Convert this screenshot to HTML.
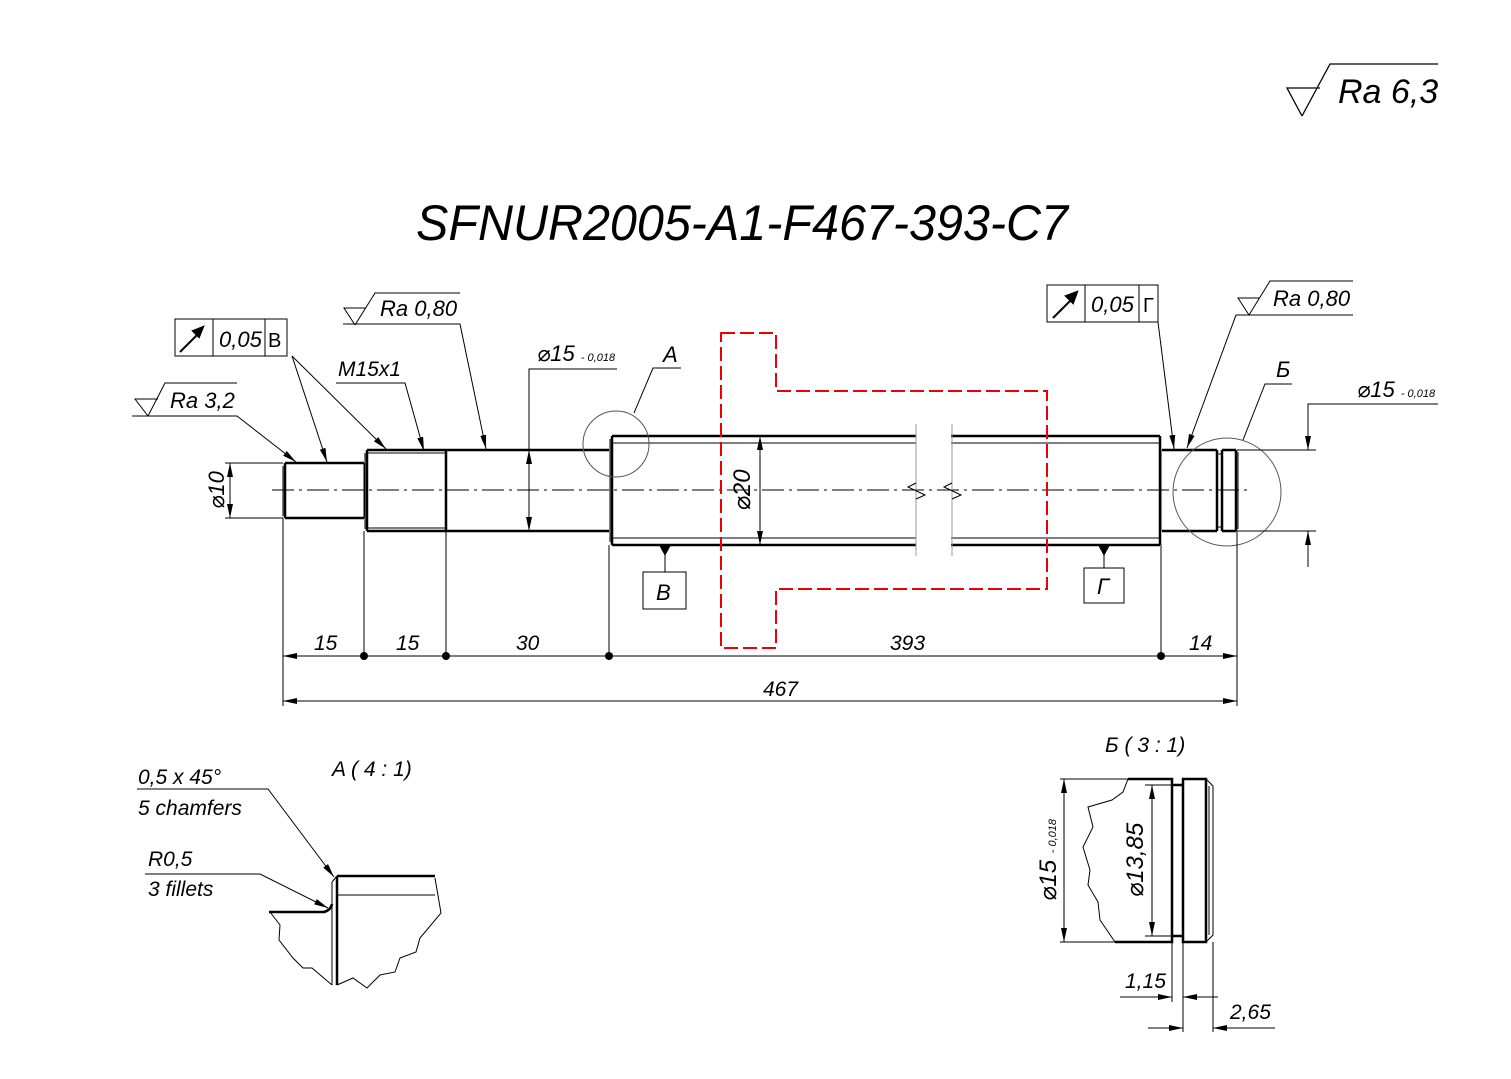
<!DOCTYPE html>
<html><head><meta charset="utf-8"><style>
html,body{margin:0;padding:0;background:#fff;}
svg{display:block;}
text{font-family:"Liberation Sans","DejaVu Sans",sans-serif;font-style:italic;fill:#000;}
</style></head><body>
<svg width="1511" height="1079" viewBox="0 0 1511 1079" xmlns="http://www.w3.org/2000/svg">
<defs>
<marker id="ar" viewBox="0 0 14 6" refX="14" refY="3" markerWidth="14" markerHeight="6" markerUnits="userSpaceOnUse" orient="auto"><path d="M0,0 L14,3 L0,6 z" fill="#000"/></marker>
</defs>
<g fill="none" stroke="#000" stroke-width="1">

<!-- Ra 6,3 -->
<path d="M1302,116 L1287,88 L1320,88 M1302,116 L1330,64 L1438,64" stroke-width="1.3"/>
<!-- centerline -->
<path d="M272,490 L1248,490" stroke-dasharray="22,5,3,5"/>

<!-- shaft -->
<g stroke-width="2.5">
<path d="M285,463 L364,463 M285,518 L364,518 M285,463 L285,518"/>
<path d="M367,450 L609,450 M367,531 L609,531 M367,450 L367,531 M446,450 L446,531"/>
<path d="M612,436 L916,436 M612,545 L916,545 M951,436 L1160,436 M951,545 L1160,545 M612,436 L612,545 M1160,436 L1160,545"/>
<path d="M1162,450 L1217,450 M1162,531 L1217,531 M1217,450 L1217,531 M1222,450 L1236,450 M1222,531 L1236,531 M1222,450 L1222,531 M1236,450 L1236,531"/>
</g>
<path d="M283,466 L283,516 M365,453 L365,529 M364,463 L364,518 M367,453 L446,453 M367,528 L446,528 M610,439 L610,542 M612,443 L916,443 M612,538 L916,538 M951,443 L1160,443 M951,538 L1160,538 M1161,450 L1161,531 M1217,454 L1222,454 M1217,527 L1222,527 M1238,452 L1238,529"/>
<!-- break -->
<path d="M916,424 L916,556 M952,424 L952,556" stroke="#999"/>
<path d="M916,483 L908,487 L925,495 L916,499 M952,483 L944,487 L961,495 L952,499"/>
<!-- circles -->
<circle cx="616" cy="444" r="33" stroke="#555"/>
<circle cx="1227" cy="492" r="54" stroke="#555"/>

<!-- extension lines -->
<path d="M283,518 L283,706 M364,531 L364,660 M446,531 L446,660 M609,545 L609,660 M1161,545 L1161,660 M1237,531 L1237,706"/>
<!-- dimension lines -->
<path d="M1237,656 L283,656" marker-end="url(#ar)"/>
<path d="M300,656 L1237,656" marker-end="url(#ar)"/>
<path d="M1237,701 L283,701" marker-end="url(#ar)"/>
<path d="M300,701 L1237,701" marker-end="url(#ar)"/>

<!-- Ø10 -->
<path d="M225,463 L283,463 M225,518 L283,518"/>
<path d="M230,490 L230,463" marker-end="url(#ar)"/><path d="M230,490 L230,518" marker-end="url(#ar)"/>
<!-- Ø15 mid -->
<path d="M617,369 L529,369 L529,490"/>
<path d="M529,490 L529,450" marker-end="url(#ar)"/><path d="M529,490 L529,531" marker-end="url(#ar)"/>
<!-- Ø20 -->
<path d="M760,490 L760,436" marker-end="url(#ar)"/><path d="M760,490 L760,545" marker-end="url(#ar)"/>
<!-- right Ø15 -->
<path d="M1237,450 L1316,450 M1237,531 L1316,531 M1438,404 L1308,404 L1308,433 M1308,548 L1308,567"/>
<path d="M1308,425 L1308,450" marker-end="url(#ar)"/><path d="M1308,556 L1308,531" marker-end="url(#ar)"/>

<!-- red dashed -->
<path d="M721,333 L776,333 L776,391 L1047,391 L1047,589 L776,589 L776,648 L721,648 Z" stroke="#e00" stroke-width="2" stroke-dasharray="14,5"/>

<!-- datum B -->
<path d="M665,555 L665,572"/><rect x="643" y="572" width="43" height="37"/>
<path d="M1104,555 L1104,568"/><rect x="1084" y="568" width="40" height="35"/>

<!-- tolerance frames -->
<rect x="175" y="319" width="112" height="37"/><path d="M213,319 L213,356 M265,319 L265,356"/>
<rect x="1047" y="285" width="111" height="37"/><path d="M1085,285 L1085,322 M1139,285 L1139,322"/>
<path d="M292,356 L327,462" marker-end="url(#ar)"/>
<path d="M292,356 L386,449" marker-end="url(#ar)"/>
<path d="M1158,322 L1174,449" marker-end="url(#ar)"/>

<!-- Ra 3,2 -->
<path d="M132,416 L237,416 L296,462" marker-end="url(#ar)"/>
<path d="M148,416 L135,399 L158,399 M148,416 L165,383 L237,383"/>
<!-- Ra 0,80 left -->
<path d="M343,324 L460,324 L486,449" marker-end="url(#ar)"/>
<path d="M355,325 L344,308 L366,308 M355,325 L375,293 L460,293"/>
<!-- M15x1 -->
<path d="M336,383 L405,383 L424,451" marker-end="url(#ar)"/>
<!-- A -->
<path d="M681,368 L653,368 L634,413"/>
<!-- Ra 0,80 right -->
<path d="M1353,315 L1236,315 L1187,448" marker-end="url(#ar)"/>
<path d="M1249,315 L1238,298 L1260,298 M1249,315 L1270,281 L1353,281"/>
<!-- Б -->
<path d="M1292,384 L1265,384 L1243,440"/>

<!-- Detail A -->
<path d="M137,789 L268,789 L334,877" marker-end="url(#ar)"/>
<path d="M145,874 L260,874 L328,908" marker-end="url(#ar)"/>
<path d="M337,876 L435,876 M337,876 L337,985 M269,912 L324,912 Q331,910 332,904" stroke-width="2.5"/>
<path d="M337,895 L435,895 M332,882 L332,985 M332,882 L337,876"/>
<path d="M435,878 L441,913 L420,938 L416,952 L400,958 L395,972 L380,975 L367,988 L353,978 L337,985"/>
<path d="M270,912 L280,925 L279,940 L293,958 L303,968 L312,968 L332,985"/>

<!-- Detail Б -->
<path d="M1128,779 L1172,779 L1172,942 L1115,942 M1183,779 L1206,779 L1206,942 L1183,942 Z M1172,785 L1183,785 M1172,936 L1183,936" stroke-width="2.5"/>
<path d="M1206,779 L1213,786 L1213,935 L1206,942 M1209,786 L1209,935"/>
<path d="M1128,779 L1123,792 L1112,800 L1088,807 L1093,827 L1083,847 L1090,870 L1088,885 L1098,902 L1100,920 L1115,942"/>
<path d="M1060,779 L1128,779 M1060,942 L1115,942 M1145,785 L1172,785 M1145,936 L1172,936"/>
<path d="M1064,860 L1064,779" marker-end="url(#ar)"/><path d="M1064,860 L1064,942" marker-end="url(#ar)"/>
<path d="M1152,860 L1152,785" marker-end="url(#ar)"/><path d="M1152,860 L1152,936" marker-end="url(#ar)"/>
<path d="M1172,942 L1172,1002 M1183,942 L1183,1032 M1213,942 L1213,1032"/>
<path d="M1120,997 L1172,997" marker-end="url(#ar)"/><path d="M1218,997 L1183,997" marker-end="url(#ar)"/>
<path d="M1148,1028 L1183,1028" marker-end="url(#ar)"/><path d="M1275,1028 L1213,1028" marker-end="url(#ar)"/>
</g>

<!-- datum triangles and dots -->
<g fill="#000">
<path d="M659,545 L671,545 L665,556 Z M1098,545 L1110,545 L1104,556 Z"/>
<circle cx="364" cy="656" r="4"/><circle cx="446" cy="656" r="4"/><circle cx="609" cy="656" r="4"/><circle cx="1161" cy="656" r="4"/>
<path d="M180,352 L200,332 M203,327 L193,331 L199,337 Z" stroke="#000" stroke-width="2"/>
<path d="M1053,318 L1073,298 M1077,292 L1066,296 L1073,303 Z" stroke="#000" stroke-width="2"/>
</g>

<!-- texts -->
<text x="1338" y="103" font-size="34">Ra 6,3</text>
<text x="416" y="240" font-size="50" textLength="652" lengthAdjust="spacingAndGlyphs">SFNUR2005-A1-F467-393-C7</text>
<text x="170" y="408" font-size="22">Ra 3,2</text>
<text x="380" y="316" font-size="22">Ra 0,80</text>
<text x="1273" y="306" font-size="22">Ra 0,80</text>
<text x="219" y="347" font-size="22">0,05</text><text x="268" y="347" font-size="20" style="font-style:normal">В</text>
<text x="1091" y="312" font-size="22">0,05</text><text x="1143" y="312" font-size="20" style="font-style:normal">Г</text>
<text x="338" y="376" font-size="21">M15x1</text>
<text x="537" y="361" font-size="22">⌀15 <tspan font-size="11">- 0,018</tspan></text>
<text x="663" y="362" font-size="22">A</text>
<text x="1276" y="377" font-size="22">Б</text>
<text x="1357" y="397" font-size="22">⌀15 <tspan font-size="11">- 0,018</tspan></text>
<text x="656" y="600" font-size="22">В</text>
<text x="1097" y="594" font-size="22">Г</text>
<text transform="translate(224,490) rotate(-90)" font-size="22" text-anchor="middle">⌀10</text>
<text transform="translate(750,490) rotate(-90)" font-size="24" text-anchor="middle">⌀20</text>
<text x="314" y="650" font-size="21">15</text>
<text x="396" y="650" font-size="21">15</text>
<text x="516" y="650" font-size="21">30</text>
<text x="890" y="650" font-size="21">393</text>
<text x="1189" y="650" font-size="21">14</text>
<text x="763" y="696" font-size="21">467</text>
<text x="138" y="784" font-size="21">0,5 x 45°</text>
<text x="138" y="815" font-size="21">5 chamfers</text>
<text x="148" y="866" font-size="21">R0,5</text>
<text x="148" y="896" font-size="21">3 fillets</text>
<text x="332" y="776" font-size="21">A ( 4 : 1)</text>
<text x="1105" y="752" font-size="21">Б ( 3 : 1)</text>
<text transform="translate(1056,860) rotate(-90)" font-size="24" text-anchor="middle">⌀15 <tspan font-size="11">- 0,018</tspan></text>
<text transform="translate(1143,860) rotate(-90)" font-size="24" text-anchor="middle">⌀13,85</text>
<text x="1125" y="988" font-size="21">1,15</text>
<text x="1230" y="1019" font-size="21">2,65</text>
</svg>
</body></html>
